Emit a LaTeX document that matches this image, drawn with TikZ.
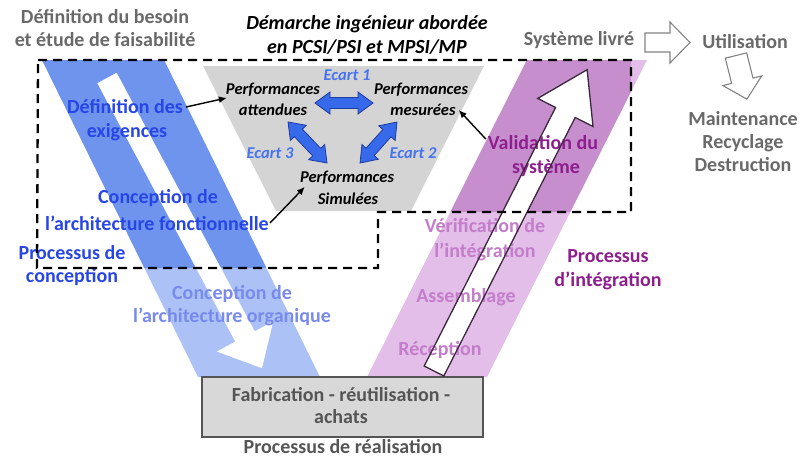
\documentclass[tikz,border=0pt]{standalone}
\usepackage{fontspec}
\setmainfont{Carlito}
\usetikzlibrary{arrows.meta}
\definecolor{bluedark}{RGB}{110,148,238}
\definecolor{bluelight}{RGB}{172,194,246}
\definecolor{purpdark}{RGB}{198,142,205}
\definecolor{purplight}{RGB}{226,190,232}
\definecolor{graytrap}{RGB}{212,212,212}
\definecolor{grayrect}{RGB}{216,216,216}
\definecolor{graytxt}{RGB}{105,105,105}
\definecolor{darkgraytxt}{RGB}{85,85,85}
\definecolor{bluetxt}{RGB}{40,70,230}
\definecolor{bluetxtlight}{RGB}{120,138,235}
\definecolor{ecartblue}{RGB}{70,115,240}
\definecolor{purptxt}{RGB}{142,30,142}
\definecolor{purptxtlight}{RGB}{196,125,202}
\definecolor{blockfill}{RGB}{55,105,235}
\definecolor{blockline}{RGB}{30,60,160}
\definecolor{arrowline}{RGB}{60,40,60}
\definecolor{hollowline}{RGB}{130,130,130}
\begin{document}
\begin{tikzpicture}[x=1pt,y=1pt,
  txt/.style={font=\fontsize{20}{23}\selectfont\bfseries, align=center, inner sep=0pt},
  perf/.style={font=\fontsize{16.5}{20}\selectfont\bfseries\itshape, inner sep=0pt},
  ecart/.style={font=\fontsize{16.5}{18}\selectfont\bfseries\itshape, text=ecartblue, inner sep=0pt},
  link/.style={-{Latex[length=8pt,width=7pt]}, line width=1.4pt},
  blockarrow/.style={fill=blockfill, draw=blockline, line width=0.8pt, line join=miter},
  hollow/.style={fill=white, draw=hollowline, line width=1.1pt, line join=miter},
  dashbox/.style={draw=black, line width=2.3pt, dash pattern=on 9pt off 6pt}
]
\useasboundingbox (0,0) rectangle (806,-459);

% bands
\fill[bluelight] (42,-60) -- (164,-60) -- (320,-377) -- (198,-377) -- cycle;
\fill[purplight] (527,-60) -- (647,-60) -- (487,-377) -- (367,-377) -- cycle;
\begin{scope}
\clip (38,-60) -- (631,-60) -- (631,-212) -- (378,-212) -- (378,-268) -- (37,-268) -- cycle;
\fill[bluedark] (42,-60) -- (164,-60) -- (320,-377) -- (198,-377) -- cycle;
\fill[purpdark] (527,-60) -- (647,-60) -- (487,-377) -- (367,-377) -- cycle;
\end{scope}

% gray trapezoid
\fill[graytrap] (203,-66) -- (484,-66) -- (411,-211) -- (276,-211) -- cycle;

% white arrow down (conception)
\begin{scope}[shift={(107,-78)}, rotate=-61.9]
\fill[white] (0,-11) -- (293,-11) -- (293,-32) -- (329,0) -- (293,32) -- (293,11) -- (0,11) -- cycle;
\end{scope}
% white arrow up (integration) fill
\begin{scope}[shift={(434,-371)}, rotate=63.06]
\fill[white] (0,-11) -- (290,-11) -- (290,-31) -- (338,0) -- (290,31) -- (290,11) -- (0,11) -- cycle;
\end{scope}

% bottom rectangle
\node[draw=darkgraytxt, fill=grayrect, line width=1.3pt, minimum width=281pt, minimum height=60pt, inner sep=0pt] (rect) at (342.5,-407) {};

% texts
\node[txt, text=graytxt] (besoin) at (105,-28) {Définition du besoin\\et étude de faisabilité};
\node[txt, font=\fontsize{20}{24}\selectfont\bfseries\itshape] (titre) at (367,-35) {Démarche ingénieur abordée\\en PCSI/PSI et MPSI/MP};
\node[txt, text=bluetxt] (def1) at (125,-107) {Définition des};
\node[txt, text=bluetxt] (def2) at (127,-132) {exigences};
\node[txt, text=bluetxt] (conc1) at (158,-198) {Conception de};
\node[txt, text=bluetxt] (conc2) at (157,-223) {l’architecture fonctionnelle};
\node[txt, text=bluetxt] (proc) at (72,-266) {Processus de\\conception};
\node[txt, text=bluetxtlight] (org) at (232,-306) {Conception de\\l’architecture organique};
\node[perf] (pa1) at (273,-90) {Performances};
\node[perf] (pa2) at (273,-110) {attendues};
\node[perf] (pm1) at (421,-90) {Performances};
\node[perf] (pm2) at (423,-110) {mesurées};
\node[perf] (ps1) at (347,-178) {Performances};
\node[perf] (ps2) at (348,-199) {Simulées};
\node[ecart] (e1) at (347,-75) {Ecart 1};
\node[ecart] (e3) at (270,-153) {Ecart 3};
\node[ecart] (e2) at (413,-153) {Ecart 2};
\node[txt, text=purptxt] (val1) at (543,-143) {Validation du};
\node[txt, text=purptxt] (val2) at (546,-168) {système};
\node[txt, text=purptxtlight, font=\fontsize{20}{25}\selectfont\bfseries] (ver) at (485,-240) {Vérification de\\l’intégration};
\node[txt, text=purptxtlight] (ass) at (466,-297) {Assemblage};
\node[txt, text=purptxtlight] (rec) at (440,-350) {Réception};
\node[txt, text=purptxt, font=\fontsize{20}{24}\selectfont\bfseries] (pint) at (608,-270) {Processus\\d’intégration};
\node[txt, text=darkgraytxt, font=\fontsize{20}{22}\selectfont\bfseries] (fab) at (341,-406) {Fabrication - réutilisation -\\achats};
\node[txt, text=darkgraytxt] (real) at (343,-447) {Processus de réalisation};
\node[txt, text=graytxt] (sys) at (579,-40) {Système livré};
\node[txt, text=graytxt] (util) at (745,-42) {Utilisation};
\node[txt, text=graytxt, font=\fontsize{20}{23}\selectfont\bfseries] (maint) at (743,-142) {Maintenance\\Recyclage\\Destruction};

% outline of the up arrow (over the texts)
\begin{scope}[shift={(434,-371)}, rotate=63.06]
\draw[draw=arrowline, line width=1.3pt, line join=miter] (0,-11) -- (290,-11) -- (290,-31) -- (338,0) -- (290,31) -- (290,11) -- (0,11) -- cycle;
\end{scope}

% block double arrows (ecarts)
\begin{scope}[shift={(315,-103)}]
\draw[blockarrow] (0,0) -- (15,11) -- (15,5.5) -- (43,5.5) -- (43,11) -- (58,0) -- (43,-11) -- (43,-5.5) -- (15,-5.5) -- (15,-11) -- cycle;
\end{scope}
\begin{scope}[shift={(288,-122)}, rotate=-46.4]
\draw[blockarrow] (0,0) -- (15,11) -- (15,5.5) -- (41.6,5.5) -- (41.6,11) -- (56.6,0) -- (41.6,-11) -- (41.6,-5.5) -- (15,-5.5) -- (15,-11) -- cycle;
\end{scope}
\begin{scope}[shift={(397,-122)}, rotate=-132]
\draw[blockarrow] (0,0) -- (15,11) -- (15,5.5) -- (40.2,5.5) -- (40.2,11) -- (55.2,0) -- (40.2,-11) -- (40.2,-5.5) -- (15,-5.5) -- (15,-11) -- cycle;
\end{scope}

% hollow arrows right side
\draw[hollow] (645,-33) -- (670,-33) -- (670,-22) -- (690,-42.5) -- (670,-63) -- (670,-52) -- (645,-52) -- cycle;
\begin{scope}[shift={(736,-55.5)}, rotate=-76]
\draw[hollow] (0,-11) -- (26,-11) -- (26,-20) -- (45,0) -- (26,20) -- (26,11) -- (0,11) -- cycle;
\end{scope}

% links
\draw[link] ([xshift=3pt]def1.east) -- ([xshift=1pt,yshift=-1pt]pa1.south west);
\draw[link] ([xshift=1pt]conc2.east) -- ([xshift=5pt,yshift=-2pt]ps1.south west);
\draw[link] ([shift={(-2pt,4pt)}]val1.west) -- ([xshift=3pt]pm2.east);

% dashed frame
\draw[dashbox] (38,-60) -- (631,-60) -- (631,-212) -- (378,-212) -- (378,-268) -- (37,-268) -- cycle;
\end{tikzpicture}
\end{document}
